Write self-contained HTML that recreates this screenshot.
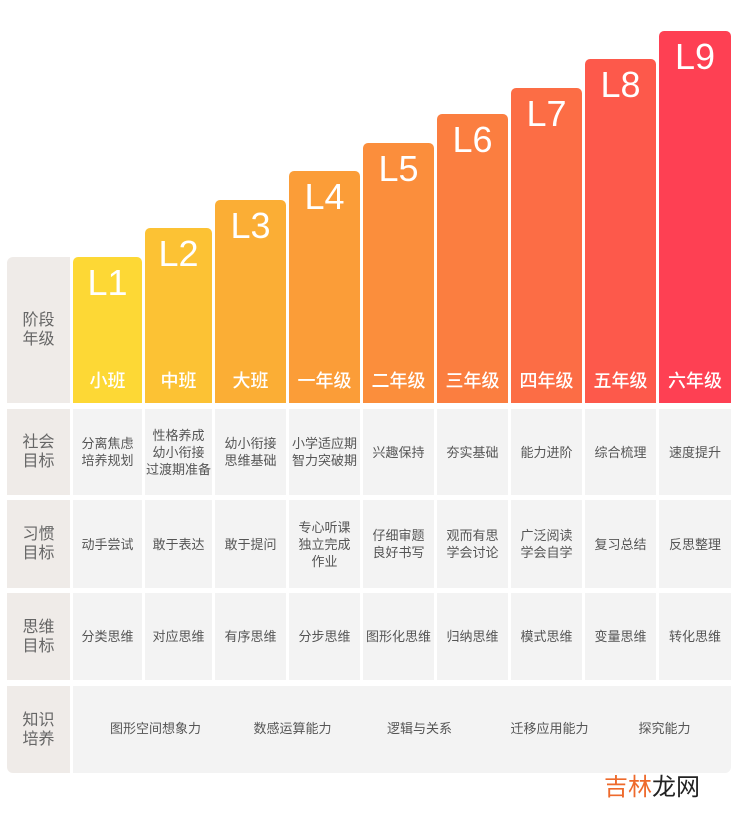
<!DOCTYPE html>
<html><head><meta charset="utf-8"><style>
body{margin:0;width:739px;height:825px;background:#fff;position:relative;overflow:hidden;font-family:"Liberation Sans","Noto Sans CJK SC",sans-serif}
.a{position:absolute;display:flex;align-items:center;justify-content:center;text-align:center}
.lab{background:#efebe8;color:#666;font-size:16px;line-height:19px}
.c{background:#f3f3f3;color:#555;font-size:13px;line-height:17px}
.bar{position:absolute;border-radius:5px 5px 0 0;color:#fff}
.bar .L{position:absolute;top:6px;left:0;right:0;text-align:center;font-size:36px;line-height:40px}
.bar .g{position:absolute;bottom:10px;left:0;right:0;text-align:center;font-size:18px;font-weight:500}
</style></head><body>
<div class="a lab" style="left:7px;top:257px;width:63px;height:146px;border-radius:6px 0 0 0">阶段<br>年级</div>
<div class="bar" style="left:73px;top:257px;width:69px;height:146px;background:#fdd835"><div class="L">L1</div><div class="g">小班</div></div>
<div class="bar" style="left:145px;top:228px;width:67px;height:175px;background:#fcc234"><div class="L">L2</div><div class="g">中班</div></div>
<div class="bar" style="left:215px;top:200px;width:71px;height:203px;background:#fbae35"><div class="L">L3</div><div class="g">大班</div></div>
<div class="bar" style="left:289px;top:171px;width:71px;height:232px;background:#fb9d38"><div class="L">L4</div><div class="g">一年级</div></div>
<div class="bar" style="left:363px;top:143px;width:71px;height:260px;background:#fb8e3c"><div class="L">L5</div><div class="g">二年级</div></div>
<div class="bar" style="left:437px;top:114px;width:71px;height:289px;background:#fb7e40"><div class="L">L6</div><div class="g">三年级</div></div>
<div class="bar" style="left:511px;top:88px;width:71px;height:315px;background:#fc6d45"><div class="L">L7</div><div class="g">四年级</div></div>
<div class="bar" style="left:585px;top:59px;width:71px;height:344px;background:#fd594b"><div class="L">L8</div><div class="g">五年级</div></div>
<div class="bar" style="left:659px;top:31px;width:72px;height:372px;background:#fe4053"><div class="L">L9</div><div class="g">六年级</div></div>

<div class="a lab" style="left:7px;top:409px;width:63px;height:86px">社会<br>目标</div>
<div class="a c" style="left:73px;top:409px;width:69px;height:86px">分离焦虑<br>培养规划</div>
<div class="a c" style="left:145px;top:409px;width:67px;height:86px">性格养成<br>幼小衔接<br>过渡期准备</div>
<div class="a c" style="left:215px;top:409px;width:71px;height:86px">幼小衔接<br>思维基础</div>
<div class="a c" style="left:289px;top:409px;width:71px;height:86px">小学适应期<br>智力突破期</div>
<div class="a c" style="left:363px;top:409px;width:71px;height:86px">兴趣保持</div>
<div class="a c" style="left:437px;top:409px;width:71px;height:86px">夯实基础</div>
<div class="a c" style="left:511px;top:409px;width:71px;height:86px">能力进阶</div>
<div class="a c" style="left:585px;top:409px;width:71px;height:86px">综合梳理</div>
<div class="a c" style="left:659px;top:409px;width:72px;height:86px">速度提升</div>

<div class="a lab" style="left:7px;top:500px;width:63px;height:88px">习惯<br>目标</div>
<div class="a c" style="left:73px;top:500px;width:69px;height:88px">动手尝试</div>
<div class="a c" style="left:145px;top:500px;width:67px;height:88px">敢于表达</div>
<div class="a c" style="left:215px;top:500px;width:71px;height:88px">敢于提问</div>
<div class="a c" style="left:289px;top:500px;width:71px;height:88px">专心听课<br>独立完成<br>作业</div>
<div class="a c" style="left:363px;top:500px;width:71px;height:88px">仔细审题<br>良好书写</div>
<div class="a c" style="left:437px;top:500px;width:71px;height:88px">观而有思<br>学会讨论</div>
<div class="a c" style="left:511px;top:500px;width:71px;height:88px">广泛阅读<br>学会自学</div>
<div class="a c" style="left:585px;top:500px;width:71px;height:88px">复习总结</div>
<div class="a c" style="left:659px;top:500px;width:72px;height:88px">反思整理</div>

<div class="a lab" style="left:7px;top:593px;width:63px;height:87px">思维<br>目标</div>
<div class="a c" style="left:73px;top:593px;width:69px;height:87px">分类思维</div>
<div class="a c" style="left:145px;top:593px;width:67px;height:87px">对应思维</div>
<div class="a c" style="left:215px;top:593px;width:71px;height:87px">有序思维</div>
<div class="a c" style="left:289px;top:593px;width:71px;height:87px">分步思维</div>
<div class="a c" style="left:363px;top:593px;width:71px;height:87px">图形化思维</div>
<div class="a c" style="left:437px;top:593px;width:71px;height:87px">归纳思维</div>
<div class="a c" style="left:511px;top:593px;width:71px;height:87px">模式思维</div>
<div class="a c" style="left:585px;top:593px;width:71px;height:87px">变量思维</div>
<div class="a c" style="left:659px;top:593px;width:72px;height:87px">转化思维</div>

<div class="a lab" style="left:7px;top:686px;width:63px;height:87px;border-radius:0 0 0 6px">知识<br>培养</div>
<div class="c" style="position:absolute;left:73px;top:686px;width:658px;height:87px;border-radius:0 0 6px 0"></div>
<div class="a c" style="left:73px;top:716px;width:165px;height:24px;background:none">图形空间想象力</div>
<div class="a c" style="left:210px;top:716px;width:165px;height:24px;background:none">数感运算能力</div>
<div class="a c" style="left:337px;top:716px;width:165px;height:24px;background:none">逻辑与关系</div>
<div class="a c" style="left:467px;top:716px;width:165px;height:24px;background:none">迁移应用能力</div>
<div class="a c" style="left:582px;top:716px;width:165px;height:24px;background:none">探究能力</div>

<div style="position:absolute;left:604px;top:773px;font-size:24px;line-height:30px"><span style="color:#ee6a2c">吉林</span><span style="color:#222">龙网</span></div>
</body></html>
